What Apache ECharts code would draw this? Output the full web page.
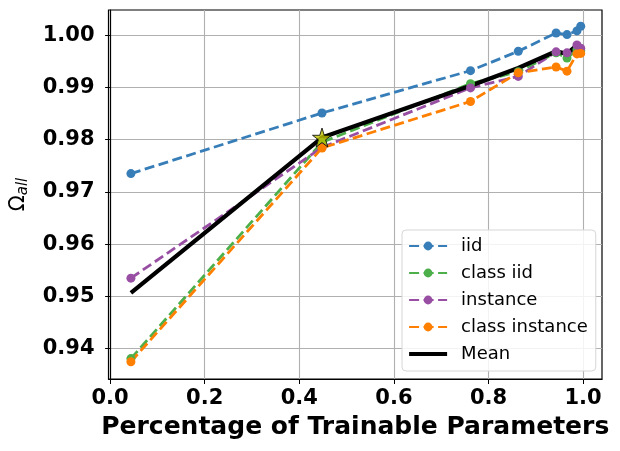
<!DOCTYPE html>
<html>
<head>
<meta charset="utf-8">
<script src="https://cdn.jsdelivr.net/npm/echarts@6/dist/echarts.min.js"></script>
<style>
  html, body { margin: 0; padding: 0; background: #fff; }
  #chart { width: 620px; height: 451px; }
</style>
</head>
<body>
<div id="chart"></div>
<script>
// fraction of trainable parameters (x) for each run
var xValues = [0.044, 0.448, 0.762, 0.863, 0.943, 0.966, 0.987, 0.995];

var iidValues           = [0.9735, 0.9851, 0.9932, 0.9969, 1.0004, 1.0001, 1.0008, 1.0017];
var classIidValues      = [0.9381, 0.9795, 0.9907, 0.9930, 0.9966, 0.9956, 0.9972, 0.9970];
var instanceValues      = [0.9535, 0.9785, 0.9899, 0.9921, 0.9968, 0.9966, 0.9981, 0.9975];
var classInstanceValues = [0.9375, 0.9784, 0.9873, 0.9928, 0.9939, 0.9931, 0.9964, 0.9965];
var meanValues          = [0.9507, 0.9804, 0.9903, 0.9937, 0.9969, 0.9964, 0.9981, 0.9982];

// highlighted point (star) sits on the mean line
var starIndex = 1;

var xTicks = [0.0, 0.2, 0.4, 0.6, 0.8, 1.0];
var yTicks = [0.94, 0.95, 0.96, 0.97, 0.98, 0.99, 1.00];

var FONT = 'DejaVu Sans';

function pairs(vals) {
  return xValues.map(function (x, i) { return [x, vals[i]]; });
}

// 5-point star path like matplotlib '*'
function starPath() {
  var pts = [];
  for (var k = 0; k < 10; k++) {
    var r = k % 2 === 0 ? 50 : 50 * 0.381966;
    var a = -Math.PI / 2 + k * Math.PI / 5;
    pts.push((50 + r * Math.cos(a)).toFixed(2) + ',' + (50 + r * Math.sin(a)).toFixed(2));
  }
  return 'path://M' + pts.join('L') + 'Z';
}

function dashed(name, color, vals) {
  return {
    name: name,
    type: 'line',
    data: pairs(vals),
    symbol: 'circle',
    symbolSize: 9,
    itemStyle: { color: color },
    lineStyle: { color: color, width: 2.8, type: [10, 4.5] },
    emphasis: { disabled: true }
  };
}

var chart = echarts.init(document.getElementById('chart'));
chart.setOption({
  animation: false,
  textStyle: { fontFamily: FONT },
  grid: {
    left: 107, right: 18, top: 10, bottom: 72,
    show: true, borderColor: '#000', borderWidth: 1.2
  },
  xAxis: {
    type: 'value',
    min: -0.0034,
    max: 1.04,
    name: 'Percentage of Trainable Parameters',
    nameLocation: 'middle',
    nameGap: 36,
    nameTextStyle: { fontFamily: FONT, fontWeight: 'bold', fontSize: 25, color: '#000' },
    axisLine: { show: true, lineStyle: { color: '#000', width: 1.2 } },
    axisTick: { show: true, inside: false, length: 5, lineStyle: { color: '#000' }, customValues: xTicks },
    axisLabel: {
      customValues: xTicks,
      margin: 9,
      fontFamily: FONT, fontWeight: 'bold', fontSize: 21, color: '#000',
      formatter: function (v) { return v.toFixed(1); }
    },
    splitLine: { show: true, lineStyle: { color: '#b0b0b0', width: 1.1 } }
  },
  yAxis: {
    type: 'value',
    min: 0.9342,
    max: 1.0048,
    name: '{a|Ω}{b|all}',
    nameLocation: 'middle',
    nameRotate: 90,
    nameGap: 78,
    nameTextStyle: {
      color: '#000',
      rich: {
        a: { fontFamily: FONT, fontSize: 21, color: '#000' },
        b: { fontFamily: FONT, fontSize: 15, fontStyle: 'italic', color: '#000', padding: [9, 0, 0, 0] }
      }
    },
    axisLine: { show: true, lineStyle: { color: '#000', width: 1.2 } },
    axisTick: { show: true, inside: false, length: 5, lineStyle: { color: '#000' }, customValues: yTicks },
    axisLabel: {
      customValues: yTicks,
      margin: 14,
      fontFamily: FONT, fontWeight: 'bold', fontSize: 21, color: '#000',
      formatter: function (v) { return v.toFixed(2); }
    },
    splitLine: { show: true, lineStyle: { color: '#b0b0b0', width: 1.1 } }
  },
  legend: {
    orient: 'vertical',
    left: 402,
    top: 230,
    data: [
      'iid', 'class iid', 'instance', 'class instance',
      { name: 'Mean', itemStyle: { opacity: 0 }, lineStyle: { width: 4.2 } }
    ],
    itemWidth: 38,
    itemHeight: 11,
    itemGap: 9,
    padding: [7, 8, 8, 5],
    backgroundColor: 'rgba(255,255,255,0.85)',
    borderColor: '#d6d6d6',
    borderWidth: 1,
    borderRadius: 4,
    textStyle: { fontFamily: FONT, fontSize: 18, color: '#000', padding: [0, 0, 0, 9] }
  },
  series: [
    dashed('iid', '#377eb8', iidValues),
    dashed('class iid', '#4daf4a', classIidValues),
    dashed('instance', '#984ea3', instanceValues),
    dashed('class instance', '#ff7f00', classInstanceValues),
    {
      name: 'Mean',
      type: 'line',
      data: pairs(meanValues),
      symbol: 'none',
      itemStyle: { color: '#000' },
      lineStyle: { color: '#000', width: 4.2 },
      emphasis: { disabled: true },
      z: 3
    },
    {
      name: 'highlight',
      type: 'scatter',
      data: [[xValues[starIndex], meanValues[starIndex]]],
      symbol: starPath(),
      symbolSize: 19,
      itemStyle: { color: '#bfbf00', borderColor: '#000', borderWidth: 1 },
      emphasis: { disabled: true },
      z: 5
    }
  ]
});
</script>
</body>
</html>
